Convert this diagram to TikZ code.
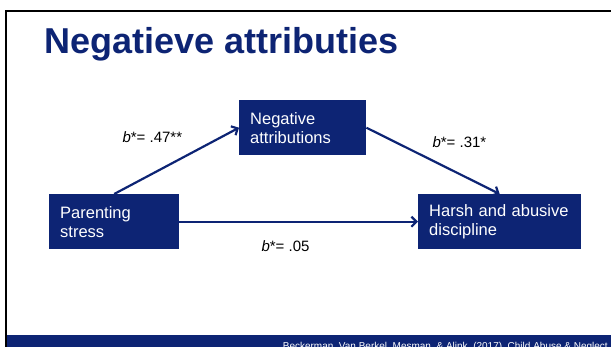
\documentclass[tikz,border=0pt]{standalone}
\usepackage{fontspec}
\setmainfont{Liberation Sans}
\usetikzlibrary{arrows.meta}
\definecolor{slideblue}{RGB}{13,36,116}
\hyphenpenalty=10000
\begin{document}
\begin{tikzpicture}[x=1pt,y=-1pt,>={Straight Barb[length=5pt,width=10pt]},
        box/.style={fill=slideblue,text=white,anchor=north west,align=left,inner xsep=11pt,inner ysep=0pt,minimum height=55pt,font=\fontsize{16.5}{19}\selectfont},
        coef/.style={anchor=base west,font=\fontsize{15}{18}\selectfont},
        link/.style={->,draw=slideblue,line width=2.2pt}]
                \useasboundingbox (0,0) rectangle (611,347);
                \clip (0,0) rectangle (611,347);
                \draw[line width=2pt] (5.7,347) -- (5.7,11.2) -- (611,11.2);
                \fill[slideblue] (6.7,335) rectangle (611,347);
                \node[anchor=base west,text=slideblue,inner sep=0pt,font=\fontsize{36}{40}\bfseries\selectfont] (title) at (44,54) {Negatieve attributies};
                \node[box,text width=108pt] (stress) at (49,194) {Parenting\\stress};
                \node[box,text width=105pt] (attrib) at (239,100) {Negative\\attributions};
                \node[box,text width=141pt] (harsh) at (418,194) {Harsh and abusive\\discipline};
                \draw[link] (stress.north) -- (attrib.west);
                \draw[link] (attrib.east) -- (harsh.north);
                \draw[link] (stress.east) -- (harsh.west);
                \node[coef] (ab) at (119,143) {\textit{b}*= .47**};
                \node[coef] (bc) at (429,148) {\textit{b}*= .31*};
                \node[coef] (ac) at (258,252) {\textit{b}*= .05};
                \node[anchor=base east,text=white,inner sep=0pt,font=\fontsize{10}{12}\selectfont] (cite) at (608,349.2) {Beckerman, Van Berkel, Mesman, \& Alink, (2017), Child Abuse \& Neglect};
            \end{tikzpicture}
\end{document}
